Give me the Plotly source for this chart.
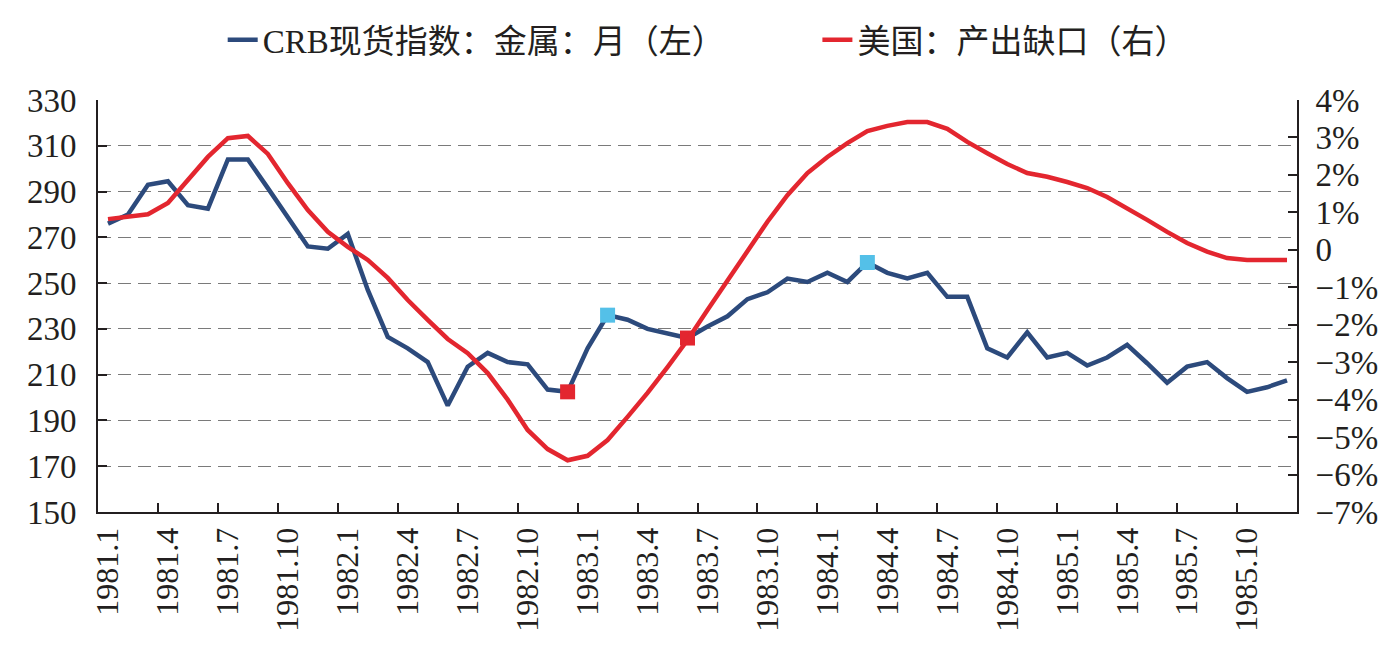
import plotly.graph_objects as go

months = [f"{y}.{m}" for y in range(1981, 1986) for m in range(1, 13)]

crb_metal = [276, 280, 293, 294.5, 284, 282.5, 304, 304, 291.5, 278.5, 266, 265,
             271.5, 247, 226.5, 221.5, 215.5, 196.5, 213.5, 219.5, 215.5, 214.5, 203.5, 202.5,
             221.5, 236, 234, 230, 228, 226, 231, 235.5, 243, 246, 252, 250.5,
             254.5, 250.5, 259, 254.5, 252, 254.5, 244, 244, 221.5, 217.5, 228.5, 217.5,
             219.5, 214, 217.5, 223, 215, 206.5, 213.5, 215.5, 208.5, 202.5, 204.5, 207.5]

output_gap = [0.82, 0.88, 0.95, 1.25, 1.86, 2.48, 2.98, 3.04, 2.56, 1.78, 1.06, 0.48,
              0.08, -0.27, -0.75, -1.34, -1.87, -2.38, -2.76, -3.29, -4.0, -4.81, -5.32, -5.62,
              -5.5, -5.08, -4.46, -3.82, -3.13, -2.41, -1.61, -0.81, 0.0, 0.75, 1.46, 2.05,
              2.48, 2.85, 3.17, 3.31, 3.41, 3.41, 3.23, 2.88, 2.58, 2.29, 2.05, 1.95,
              1.81, 1.65, 1.41, 1.12, 0.80, 0.48, 0.18, -0.05, -0.22, -0.27, -0.27, -0.27]

red_marks = ["1982.12", "1983.6"]
cyan_marks = ["1983.2", "1984.3"]

left_ticks = list(range(150, 331, 20))
right_ticks = list(range(-7, 5))
right_text = [("0" if v == 0 else (f"\u2212{abs(v)}%" if v < 0 else f"{v}%")) for v in right_ticks]

label_months = months[::3]

xi = list(range(len(months)))
idx = {m: i for i, m in enumerate(months)}

BLUE = "#2c4a7c"
RED = "#e3262f"
CYAN = "#54c0e8"
TXT = "#231f20"
FONT = "Liberation Serif"
LFONT = "Liberation Serif, Noto Sans CJK SC"

fig = go.Figure()
fig.add_trace(go.Scatter(x=xi, y=crb_metal, mode="lines", name="CRB现货指数：金属：月（左）",
                         line=dict(color=BLUE, width=4.5), legend="legend"))
fig.add_trace(go.Scatter(x=xi, y=output_gap, mode="lines", name="美国：产出缺口（右）",
                         line=dict(color=RED, width=4.5), yaxis="y2", legend="legend2"))
fig.add_trace(go.Scatter(x=[idx[m] for m in red_marks], y=[crb_metal[idx[m]] for m in red_marks],
                         mode="markers", marker=dict(symbol="square", size=15, color=RED),
                         showlegend=False))
fig.add_trace(go.Scatter(x=[idx[m] for m in cyan_marks], y=[crb_metal[idx[m]] for m in cyan_marks],
                         mode="markers", marker=dict(symbol="square", size=15, color=CYAN),
                         showlegend=False))
# invisible trace to carry the boundary tick axis
fig.add_trace(go.Scatter(x=[xi[0], xi[-1]], y=[None, None], xaxis="x2", showlegend=False,
                         hoverinfo="skip"))

fig.update_layout(
    width=1390, height=655,
    margin=dict(l=98, r=93, t=100, b=143),
    paper_bgcolor="white", plot_bgcolor="white",
    font=dict(family=LFONT, color=TXT, size=30),
    xaxis=dict(range=[-0.5, len(months) - 0.5], tickmode="array",
               tickvals=[idx[m] for m in label_months], ticktext=label_months,
               tickangle=-90, ticks="", showgrid=False, zeroline=False,
               showline=True, linecolor="#231f20", linewidth=2,
               tickfont=dict(size=32, family=FONT, color=TXT), ticklabelstandoff=1),
    xaxis2=dict(range=[-0.5, len(months) - 0.5], overlaying="x", side="bottom",
                tickmode="array", tickvals=[i - 0.5 for i in range(3, len(months), 3)],
                ticks="inside", ticklen=9, tickwidth=2, tickcolor="#231f20",
                showticklabels=False, showgrid=False, zeroline=False, showline=False),
    yaxis=dict(range=[150, 330], tickmode="array", tickvals=left_ticks,
               ticks="inside", ticklen=9, tickwidth=2, tickcolor="#231f20",
               showline=True, linecolor="#231f20", linewidth=2,
               showgrid=True, gridcolor="#7a7a7a", gridwidth=1.3, griddash="13px,7px",
               zeroline=False, tickfont=dict(size=33, family=FONT, color=TXT),
               ticklabelstandoff=13),
    yaxis2=dict(range=[-7, 4], overlaying="y", side="right", tickmode="array",
                tickvals=right_ticks, ticktext=right_text,
                ticks="inside", ticklen=9, tickwidth=2, tickcolor="#231f20",
                showline=True, linecolor="#231f20", linewidth=2,
                showgrid=False, zeroline=False,
                tickfont=dict(size=33, family=FONT, color=TXT), ticklabelstandoff=10),
    legend=dict(orientation="h", x=0.104, xanchor="left", y=1.146, yanchor="middle",
                font=dict(size=33, family=LFONT, color=TXT), bgcolor="rgba(0,0,0,0)"),
    legend2=dict(orientation="h", x=0.6, xanchor="left", y=1.146, yanchor="middle",
                 font=dict(size=33, family=LFONT, color=TXT), bgcolor="rgba(0,0,0,0)"),
    showlegend=True,
)

fig.write_html("out.html")
